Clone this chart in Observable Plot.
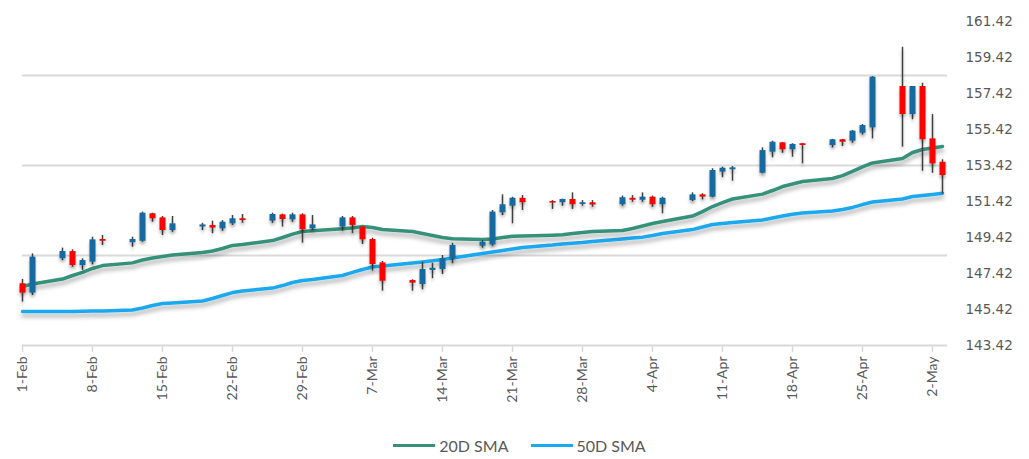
<!DOCTYPE html>
<html>
<head>
<meta charset="utf-8">
<script src="https://cdn.jsdelivr.net/npm/d3@7"></script>
<script src="https://cdn.jsdelivr.net/npm/@observablehq/plot@0.6"></script>
<style>
  html, body { margin: 0; padding: 0; background: #ffffff; }
  #chart { width: 1029px; height: 420px; }
  #legend { display: flex; justify-content: center; align-items: center; height: 22px; margin-top: 14px; padding-left: 10px;
            font-family: Lato, "Open Sans", sans-serif; font-size: 16px; color: #595959; }
  .item { display: flex; align-items: center; margin: 0 11px; }
  .sw { width: 42px; height: 3px; margin-right: 4px; }
</style>
</head>
<body>
<div id="chart"></div>
<div id="legend">
  <div class="item"><div class="sw" style="background:#36917a"></div><span>20D SMA</span></div>
  <div class="item"><div class="sw" style="background:#1aa8ef"></div><span>50D SMA</span></div>
</div>
<script>
const dates = ["2024-02-01","2024-02-02","2024-02-05","2024-02-06","2024-02-07","2024-02-08","2024-02-09",
  "2024-02-12","2024-02-13","2024-02-14","2024-02-15","2024-02-16","2024-02-19","2024-02-20","2024-02-21",
  "2024-02-22","2024-02-23","2024-02-26","2024-02-27","2024-02-28","2024-02-29","2024-03-01","2024-03-04",
  "2024-03-05","2024-03-06","2024-03-07","2024-03-08","2024-03-11","2024-03-12","2024-03-13","2024-03-14",
  "2024-03-15","2024-03-18","2024-03-19","2024-03-20","2024-03-21","2024-03-22","2024-03-25","2024-03-26",
  "2024-03-27","2024-03-28","2024-03-29","2024-04-01","2024-04-02","2024-04-03","2024-04-04","2024-04-05",
  "2024-04-08","2024-04-09","2024-04-10","2024-04-11","2024-04-12","2024-04-15","2024-04-16","2024-04-17",
  "2024-04-18","2024-04-19","2024-04-22","2024-04-23","2024-04-24","2024-04-25","2024-04-26","2024-04-29",
  "2024-04-30","2024-05-01","2024-05-02","2024-05-03"];
const open = [146.85,146.33,148.24,148.64,147.86,148.05,149.31,149.13,149.21,150.74,150.51,149.81,150.00,150.09,149.90,
  150.18,150.46,150.33,150.68,150.40,150.68,149.90,150.00,150.51,150.00,149.31,148.01,147.03,146.81,147.59,147.64,
  148.24,148.94,149.01,150.79,151.16,151.60,151.42,151.35,151.53,151.25,151.35,151.24,151.60,151.49,151.66,151.24,
  151.48,151.79,151.66,153.05,153.18,152.99,154.16,154.68,154.29,154.63,154.53,154.85,154.77,155.21,155.51,157.81,
  156.25,157.81,154.90,153.60];
const high = [147.09,148.51,148.83,148.74,148.24,149.44,149.53,149.44,150.83,150.77,150.59,150.59,150.21,150.33,150.36,
  150.64,150.70,150.77,150.72,150.77,150.74,150.64,150.59,150.59,150.03,149.38,148.09,147.07,148.05,147.99,148.42,
  149.10,149.25,150.92,151.79,151.66,151.75,151.47,151.55,151.90,151.47,151.47,151.72,151.75,151.90,151.72,151.66,
  151.90,151.85,153.24,153.33,153.36,154.40,154.77,154.70,154.63,154.65,154.87,154.87,155.36,155.70,158.36,159.99,
  157.81,157.99,156.25,153.74];
const low = [145.83,146.20,148.14,147.77,147.59,147.90,148.98,148.88,149.16,150.27,149.53,149.71,149.81,149.63,149.77,
  150.09,150.21,150.21,150.00,150.27,149.10,149.81,149.77,149.63,149.03,147.55,146.44,146.44,146.51,147.13,147.36,
  147.96,148.83,148.94,150.64,150.18,150.92,150.98,151.16,150.98,151.16,151.10,151.16,151.38,151.38,151.10,150.74,
  151.42,151.51,151.63,152.74,152.55,152.96,153.85,154.10,153.88,153.51,154.40,154.48,154.66,155.12,154.90,154.44,
  155.96,153.10,152.99,151.85];
const close = [146.33,148.33,148.64,147.86,148.14,149.29,149.21,149.31,150.77,150.46,149.81,150.18,150.12,149.94,150.27,
  150.46,150.36,150.70,150.42,150.68,149.85,150.12,150.51,150.09,149.29,147.92,146.99,146.88,147.64,147.71,148.24,
  148.98,149.16,150.83,151.24,151.60,151.35,151.33,151.53,151.24,151.35,151.22,151.63,151.49,151.66,151.24,151.60,
  151.79,151.66,153.14,153.27,153.29,154.25,154.71,154.29,154.59,154.53,154.85,154.71,155.33,155.64,158.33,156.25,
  157.81,154.85,153.51,152.86];
const sma20 = [146.70,146.84,147.11,147.31,147.48,147.70,147.86,148.01,148.17,148.28,148.36,148.45,148.59,148.67,148.81,
  148.98,149.03,149.25,149.42,149.61,149.75,149.79,149.90,149.95,150.03,149.98,149.86,149.75,149.64,149.53,149.42,
  149.35,149.31,149.34,149.42,149.49,149.50,149.55,149.57,149.64,149.70,149.75,149.81,149.92,150.06,150.20,150.31,
  150.61,150.86,151.14,151.36,151.56,151.83,152.03,152.25,152.39,152.53,152.70,152.86,153.09,153.34,153.56,153.81,
  154.14,154.31,154.39,154.48];
const sma50 = [145.31,145.31,145.31,145.31,145.32,145.33,145.33,145.39,145.50,145.64,145.75,145.78,145.89,146.03,146.20,
  146.36,146.45,146.61,146.75,146.92,147.03,147.09,147.31,147.48,147.64,147.78,147.84,148.00,148.06,148.13,148.20,
  148.28,148.53,148.61,148.70,148.78,148.86,149.00,149.06,149.10,149.14,149.20,149.34,149.39,149.44,149.53,149.64,
  149.86,150.00,150.14,150.20,150.25,150.39,150.50,150.61,150.71,150.78,150.89,150.98,151.09,151.25,151.39,151.56,
  151.70,151.75,151.81,151.88];
const yTicks = [143.42,145.42,147.42,149.42,151.42,153.42,155.42,157.42,159.42,161.42];
const gridValues = [148.42,153.42,158.42];
const xTickLabels = ["2024-02-01","2024-02-08","2024-02-15","2024-02-22","2024-02-29","2024-03-07","2024-03-14",
  "2024-03-21","2024-03-28","2024-04-04","2024-04-11","2024-04-18","2024-04-25","2024-05-02"];

const data = dates.map((d, i) => ({
  date: new Date(d + "T00:00:00Z"), open: open[i], high: high[i], low: low[i], close: close[i],
  sma20: sma20[i], sma50: sma50[i], up: close[i] >= open[i]
}));
const xTicks = xTickLabels.map(d => new Date(d + "T00:00:00Z"));

const svg = Plot.plot({
  width: 1029, height: 420,
  marginLeft: 22, marginRight: 82, marginTop: 21, marginBottom: 75,
  style: {background: "#ffffff", fontFamily: "Lato, 'Open Sans', sans-serif", fontSize: "14px", color: "#595959"},
  x: {type: "utc", domain: [new Date("2024-02-01T00:00:00Z"), new Date("2024-05-03T12:00:00Z")]},
  y: {domain: [143.42, 161.42]},
  marks: [
    Plot.ruleY(gridValues, {stroke: "#d9d9d9", strokeWidth: 2}),
    Plot.ruleY([143.42], {stroke: "#d9d9d9", strokeWidth: 2}),
    Plot.axisX({ticks: xTicks, tickFormat: d3.utcFormat("%-d-%b"), tickRotate: -90, tickSize: 7,
      stroke: "#d9d9d9", strokeWidth: 1.5, fill: "#595959", tickPadding: 4, fontSize: 14, label: null}),
    Plot.axisY({anchor: "right", ticks: yTicks, tickSize: 0, tickPadding: 18, tickFormat: d => d.toFixed(2),
      fill: "#595959", fontSize: 13.5, fontFamily: "DejaVu Sans", label: null}),
    Plot.line(data, {x: "date", y: "sma50", stroke: "#1aa8ef", strokeWidth: 3.5}),
    Plot.line(data, {x: "date", y: "sma20", stroke: "#36917a", strokeWidth: 3.5}),
    Plot.ruleX(data, {x: "date", y1: "low", y2: "high", stroke: "#404040", strokeWidth: 1.5}),
    Plot.ruleX(data, {x: "date", y1: "open", y2: "close", stroke: d => d.up ? "#126aa0" : "#ff0000",
      strokeWidth: 6, strokeLinecap: "butt"})
  ]
});

// drop shadows
const ns = "http://www.w3.org/2000/svg";
const defs = document.createElementNS(ns, "defs");
defs.innerHTML = `
  <filter id="shd" filterUnits="userSpaceOnUse" x="0" y="0" width="1029" height="420">
    <feDropShadow dx="0" dy="4" stdDeviation="2" flood-color="#000" flood-opacity="0.3"/>
  </filter>
  <filter id="shd2" filterUnits="userSpaceOnUse" x="0" y="0" width="1029" height="420">
    <feDropShadow dx="0" dy="3" stdDeviation="1.5" flood-color="#000" flood-opacity="0.25"/>
  </filter>`;
svg.insertBefore(defs, svg.firstChild);
svg.querySelectorAll('g[aria-label="line"]').forEach(g => g.setAttribute("filter", "url(#shd)"));
const rules = svg.querySelectorAll('g[aria-label="rule"]');
rules.forEach((g, i) => { if (i >= rules.length - 2) g.setAttribute("filter", "url(#shd2)"); });

document.getElementById("chart").appendChild(svg);
</script>
</body>
</html>
